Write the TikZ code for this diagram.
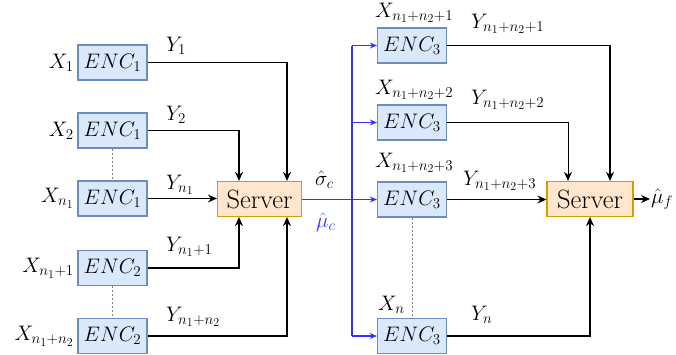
\documentclass[tikz,border=0pt]{standalone}
\usepackage{fix-cm}
\DeclareMathSizes{21}{21}{15}{12}
\usetikzlibrary{arrows.meta,calc}
\definecolor{encfill}{HTML}{DAE8FC}
\definecolor{encdraw}{HTML}{6C8EBF}
\definecolor{srvfill}{HTML}{FFE6CC}
\definecolor{srvdraw}{HTML}{D79B00}
\definecolor{myblue}{HTML}{3333FF}
\tikzset{
  enc/.style={draw=encdraw,fill=encfill,line width=1.2pt,minimum width=69pt,minimum height=35pt,inner sep=0pt,font=\fontsize{21}{23}\selectfont},
  srv/.style={draw=srvdraw,fill=srvfill,line width=1.2pt,minimum width=84pt,minimum height=35pt,inner sep=0pt,font=\fontsize{26.5}{28}\selectfont},
  lbl/.style={inner sep=0pt,font=\fontsize{21}{23}\selectfont},
  arr/.style={line width=1.3pt,-{Stealth[length=9pt,width=8pt]}},
  barr/.style={line width=1.2pt,myblue,-{Stealth[length=7pt,width=6pt]}},
  dots/.style={gray,line width=0.7pt,dash pattern=on 2pt off 2pt}
}
\begin{document}
\begin{tikzpicture}[x=1pt,y=-1pt]
\useasboundingbox (0,0) rectangle (676,354);
% left encoders
\node[enc] (e1) at (112.5,62.5) {$ENC_1$};
\node[enc] (e2) at (112.5,130.5) {$ENC_1$};
\node[enc] (e3) at (112.5,198.5) {$ENC_1$};
\node[enc] (e4) at (112.5,268) {$ENC_2$};
\node[enc] (e5) at (112.5,336) {$ENC_2$};
\node[srv] (s1) at (259.5,199) {Server};
% right encoders
\node[enc] (f1) at (412,45.5) {$ENC_3$};
\node[enc] (f2) at (412,122.5) {$ENC_3$};
\node[enc] (f3) at (412,199.5) {$ENC_3$};
\node[enc] (f4) at (412,336) {$ENC_3$};
\node[srv,minimum width=86pt] (s2) at (590,199) {Server};
% X labels left
\node[lbl,anchor=east] (x1) at (74,62.5) {$X_1$};
\node[lbl,anchor=east] (x2) at (74,130.5) {$X_2$};
\node[lbl,anchor=east] (x3) at (74,198.5) {$X_{n_1}$};
\node[lbl,anchor=east] (x4) at (74,268) {$X_{n_1+1}$};
\node[lbl,anchor=east] (x5) at (74,336) {$X_{n_1+n_2}$};
% Y labels left
\node[lbl,anchor=base west] (y1) at (166,51) {$Y_1$};
\node[lbl,anchor=base west] (y2) at (166,120) {$Y_2$};
\node[lbl,anchor=base west] (y3) at (166,189) {$Y_{n_1}$};
\node[lbl,anchor=base west] (y4) at (166,251) {$Y_{n_1+1}$};
\node[lbl,anchor=base west] (y5) at (166,321) {$Y_{n_1+n_2}$};
% X labels right
\node[lbl,anchor=base west] (x6) at (375,17) {$X_{n_1+n_2+1}$};
\node[lbl,anchor=base west] (x7) at (375,94) {$X_{n_1+n_2+2}$};
\node[lbl,anchor=base west] (x8) at (375,167) {$X_{n_1+n_2+3}$};
\node[lbl,anchor=base west] (x9) at (378,310) {$X_n$};
% Y labels right
\node[lbl,anchor=base west] (y6) at (471,28) {$Y_{n_1+n_2+1}$};
\node[lbl,anchor=base west] (y7) at (471,104) {$Y_{n_1+n_2+2}$};
\node[lbl,anchor=base west] (y8) at (463,185) {$Y_{n_1+n_2+3}$};
\node[lbl,anchor=base west] (y9) at (471,320) {$Y_n$};
% sigma / mu
\node[lbl,anchor=base west] (sig) at (315,185) {$\hat{\sigma}_c$};
\node[lbl,anchor=base west,text=myblue] (mu) at (316,227) {$\hat{\mu}_c$};
\node[lbl,anchor=west] (muf) at (651,199) {$\hat{\mu}_f$};
% dotted links
\draw[dots] (e2.south) -- (e3.north);
\draw[dots] (e4.south) -- (e5.north);
\draw[dots] (f3.south) -- (f4.north);
% left connectors
\draw[arr] (e1.east) -| ($(s1.north)+(27.5,0)$);
\draw[arr] (e2.east) -| ($(s1.north)+(-20.5,0)$);
\draw[arr] (e3.east) -- (e3.east -| s1.west);
\draw[arr] (e4.east) -| ($(s1.south)+(-20.5,0)$);
\draw[arr] (e5.east) -| ($(s1.south)+(27.5,0)$);
% blue distribution
\coordinate (bj) at (352,199.5);
\draw[barr] (s1.east |- bj) -- (f3.west);
\draw[myblue,line width=1.2pt] (bj |- f1) -- (bj |- f4);
\draw[barr] (bj |- f1) -- (f1.west);
\draw[barr] (bj |- f2) -- (f2.west);
\draw[barr] (bj |- f4) -- (f4.west);
% right connectors
\draw[arr] (f1.east) -| ($(s2.north)+(20,0)$);
\draw[arr,line width=1pt] (f2.east) -| ($(s2.north)+(-22,0)$);
\draw[arr] (f3.east) -- (f3.east -| s2.west);
\draw[arr] (f4.east) -| (s2.south);
\draw[arr] (s2.east) -- ([xshift=-1pt]muf.west);
\end{tikzpicture}
\end{document}
